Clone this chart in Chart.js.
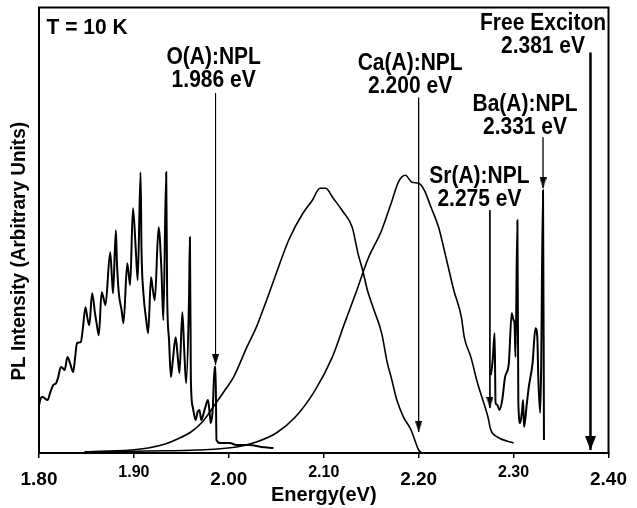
<!DOCTYPE html>
<html>
<head>
<meta charset="utf-8">
<script src="https://cdn.jsdelivr.net/npm/chart.js@4.4.1/dist/chart.umd.min.js"></script>
<style>
  html, body { margin: 0; padding: 0; background: #fff; }
  canvas { display: block; }
</style>
</head>
<body>
<canvas id="c" width="637" height="508"></canvas>
<script>
// ---------------- data ----------------
// O(A) bound-exciton band with phonon replicas
const oEnergy = [1.800,1.802,1.804,1.807,1.809,1.812,1.815,1.818,1.820,1.823,1.825,1.827,1.830,1.833,1.836,1.838,1.840,1.844,1.846,1.849,1.851,1.853,1.856,1.859,1.861,1.863,1.866,1.868,1.870,1.875,1.877,1.878,1.881,1.882,1.884,1.887,1.889,1.893,1.896,1.899,1.902,1.904,1.907,1.908,1.910,1.913,1.915,1.918,1.920,1.922,1.926,1.929,1.931,1.934,1.935,1.937,1.939,1.941,1.944,1.946,1.948,1.951,1.953,1.955,1.958,1.959,1.960,1.962,1.965,1.967,1.969,1.971,1.972,1.975,1.978,1.980,1.981,1.983,1.985,1.986,1.987,1.991,2.001,2.008,2.022,2.034,2.047];
const oIntensity = [48,55,56,54,53,61,68,70,75,86,85,83,96,89,81,95,110,111,123,146,135,128,160,140,128,118,161,155,148,201,173,160,223,193,161,143,130,190,168,245,203,173,281,203,160,133,120,176,163,153,226,183,133,281,160,113,76,93,116,98,80,141,103,70,153,216,73,46,33,41,43,33,35,45,53,38,30,43,86,86,13,10,10,8,8,6,5];

// broad band peaking near 2.10 eV
const band1Energy = [1.848,1.874,1.897,1.915,1.933,1.946,1.960,1.972,1.985,1.996,2.005,2.019,2.029,2.039,2.050,2.063,2.078,2.088,2.096,2.102,2.110,2.120,2.130,2.136,2.141,2.146,2.153,2.161,2.167,2.171,2.177,2.184,2.192,2.197,2.200,2.203];
const band1Intensity = [1,2,3,5,9,14,21,31,48,63,76,106,126,151,180,213,240,253,265,265,255,242,226,200,183,163,143,120,90,76,53,36,23,10,3,0];

// broad band peaking near 2.19 eV
const band2Energy = [1.848,1.915,1.967,2.008,2.029,2.050,2.070,2.091,2.109,2.122,2.136,2.146,2.161,2.171,2.179,2.186,2.193,2.200,2.206,2.213,2.221,2.227,2.237,2.245,2.248,2.255,2.262,2.273,2.276,2.283,2.300];
const band2Intensity = [1,2,3,6,11,20,36,63,96,130,166,193,223,250,272,278,271,270,263,246,226,203,163,136,116,96,70,36,23,16,10];

// Sr(A) / Ba(A) region
const srbaEnergy = [2.276,2.278,2.280,2.281,2.283,2.285,2.288,2.291,2.295,2.298,2.300,2.301,2.302,2.304,2.305,2.307,2.309,2.310,2.311,2.314,2.316,2.320,2.323,2.325,2.326,2.328,2.329,2.331,2.332];
const srbaIntensity = [78,93,120,50,48,43,53,76,90,140,133,130,96,233,50,30,43,53,26,50,66,90,125,116,76,40,83,263,13];

// marker arrows
const arrowEnergy = [1.986, 2.200, 2.275, 2.331, 2.381];
const arrowTop    = [360, 356, 243, 316, 401];
const arrowTip    = [88, 21, 45, 265, 3];

// annotation labels
const labelLines  = [["O(A):NPL","1.986 eV"],["Ca(A):NPL","2.200 eV"],["Sr(A):NPL","2.275 eV"],["Ba(A):NPL","2.331 eV"],["Free Exciton","2.381 eV"]];
const labelEnergy = [1.984, 2.191, 2.264, 2.312, 2.331];
const labelLevel  = [396, 390, 277, 349, 430];
const tempLabel = "T = 10 K";
const xTitle = "Energy(eV)";
const yTitle = "PL Intensity (Arbitrary Units)";
const xMin = 1.80, xMax = 2.40, xStep = 0.10;
const yMax = 446;

// ---------------- helpers ----------------
const FONT = "'Liberation Sans', Arial, Helvetica, sans-serif";
function pts(xs, ys) { return xs.map((x, i) => ({x: x, y: ys[i]})); }
function arrowHead(w, h) {
  const c = document.createElement('canvas');
  c.width = w; c.height = 2 * h;
  const g = c.getContext('2d');
  g.fillStyle = '#000';
  g.beginPath(); g.moveTo(0, 0); g.lineTo(w, 0); g.lineTo(w / 2, h); g.closePath(); g.fill();
  return c;
}
const smallHead = arrowHead(7, 11);
const bigHead = arrowHead(11, 14);
const arrowWidths = [1, 1.3, 1, 1.3, 2.5];

const datasets = [
  {data: pts(oEnergy, oIntensity), borderWidth: 2},
  {data: pts(band1Energy, band1Intensity), borderWidth: 1.6},
  {data: pts(band2Energy, band2Intensity), borderWidth: 1.6},
  {data: pts(srbaEnergy, srbaIntensity), borderWidth: 2}
].map(d => Object.assign(d, {showLine: true, borderColor: '#000', pointRadius: 0, cubicInterpolationMode: 'monotone', fill: false}));

arrowEnergy.forEach((e, i) => {
  datasets.push({
    data: [{x: e, y: arrowTop[i]}, {x: e, y: arrowTip[i]}],
    showLine: true, borderColor: '#000', borderWidth: arrowWidths[i],
    pointRadius: [0, 5], pointStyle: i === 4 ? bigHead : smallHead,
    backgroundColor: '#000', fill: false
  });
});

function tallText(ctx, t, px, py, sy) {
  ctx.save();
  ctx.translate(px, py);
  ctx.scale(1, sy);
  ctx.fillText(t, 0, 0);
  ctx.restore();
}

const annot = {
  id: 'annot',
  afterDraw(chart) {
    const {ctx, chartArea: a, scales: {x, y}} = chart;
    ctx.save();
    // frame
    ctx.strokeStyle = '#000'; ctx.lineWidth = 2;
    ctx.strokeRect(a.left, a.top, a.right - a.left, a.bottom - a.top);
    ctx.fillStyle = '#000';
    ctx.font = 'bold 21px ' + FONT;
    ctx.textAlign = 'center'; ctx.textBaseline = 'middle';
    labelLines.forEach((lines, i) => {
      const px = x.getPixelForValue(labelEnergy[i]);
      const py = y.getPixelForValue(labelLevel[i]);
      lines.forEach((t, k) => tallText(ctx, t, px, py + k * 23, 1.12));
    });
    ctx.textAlign = 'left';
    tallText(ctx, tempLabel, x.getPixelForValue(1.808), y.getPixelForValue(426), 1.08);
    // y title
    ctx.translate(19, (a.top + a.bottom) / 2 + 21);
    ctx.rotate(-Math.PI / 2);
    ctx.textAlign = 'center';
    ctx.font = 'bold 19px ' + FONT;
    tallText(ctx, yTitle, 0, 0, 1.1);
    ctx.restore();
  }
};

const bigFont = {family: FONT, size: 19, weight: 'bold', lineHeight: 1.2};
const smallFont = {family: FONT, size: 16, weight: 'bold', lineHeight: 0.56};

new Chart(document.getElementById('c'), {
  type: 'scatter',
  data: {datasets},
  options: {
    responsive: false, animation: false, devicePixelRatio: 1,
    layout: {padding: {top: 7, right: 19, left: 0, bottom: 0}},
    plugins: {legend: {display: false}, tooltip: {enabled: false}},
    scales: {
      x: {
        type: 'linear', min: xMin, max: xMax,
        afterFit: s => { s.height = 55; },
        ticks: {
          stepSize: xStep, color: '#000', padding: 10, maxRotation: 0,
          callback: v => v.toFixed(2),
          font: c => {
            if (!c || !c.tick) return bigFont;
            const major = Math.round(c.tick.value * 10) % 2 === 0;
            return major ? bigFont : smallFont;
          }
        },
        grid: {display: true, drawOnChartArea: false, drawTicks: true, tickLength: 5, color: '#000', lineWidth: 1.5},
        border: {display: true, color: '#000', width: 2},
        title: {display: true, text: xTitle, color: '#000', font: {family: FONT, size: 20, weight: 'bold'}, padding: {top: 0, bottom: 1}}
      },
      y: {
        min: 0, max: yMax,
        afterFit: s => { s.width = 39; },
        ticks: {display: false},
        grid: {display: false},
        border: {display: true, color: '#000', width: 2}
      }
    }
  },
  plugins: [annot]
});
</script>
</body>
</html>
